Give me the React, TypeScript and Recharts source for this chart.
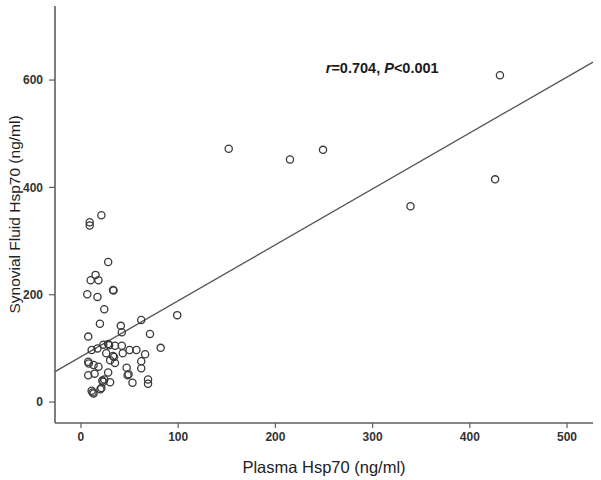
import React from "react"
import { ScatterChart, Scatter, XAxis, YAxis, ReferenceLine, ReferenceDot, Label } from "recharts"

// Plasma Hsp70 (x) vs synovial fluid Hsp70 (y), ng/ml
const plasmaHsp70 = [
  152, 215, 249, 339, 426, 431, 99,
  21, 9, 9, 28, 15, 10, 18, 33, 33.5, 6.5, 17, 24, 19.5, 62, 41, 42, 7.5, 71, 82,
  11, 17, 23, 28, 29, 35, 42, 50, 57, 66, 26, 43, 33, 34, 30, 35, 7.5, 8, 13, 18,
  7.5, 14, 47, 62, 62, 48, 49, 28, 24, 23, 22, 30, 21, 53, 69, 69, 11, 12, 13, 20,
]
const synovialHsp70 = [
  472, 452, 470, 365, 415, 609, 162,
  348, 335, 329, 261, 237, 227, 227, 209, 208, 201, 196, 173, 146, 153, 142, 130, 122, 127, 101,
  97, 100, 107, 108, 106, 105, 105, 97, 97, 89, 91, 91, 86, 84, 78, 73, 75, 72, 69, 66,
  50, 53, 64, 76, 63, 50, 52, 55, 42, 38, 40, 37, 26, 36, 42, 34, 21, 18, 16, 24,
]

const xTicks = [0, 100, 200, 300, 400, 500]
const yTicks = [0, 200, 400, 600]
const xDomain = [-26.7, 526.7]
const yDomain = [-39, 738]

// linear fit shown in the figure
const fitIntercept = 84.6
const fitSlope = 1.042
const statText = { r: "0.704", p: "0.001" }

const points = plasmaHsp70.map((x, i) => ({ x, y: synovialHsp70[i] }))
const fitY = (x: number) => fitIntercept + fitSlope * x

const frame = "#5e5e5e"
const tickStyle = { fontFamily: "'Liberation Sans', Arial, sans-serif", fontSize: 12, fontWeight: 700, fill: "#333" }
const titleFont = "'Liberation Sans', Arial, sans-serif"

const OpenCircle = (props: any) => {
  const { cx, cy } = props
  if (cx == null || cy == null) return null
  return <circle cx={cx} cy={cy} r={3.6} fill="none" stroke="#3a3a3a" strokeWidth={1.3} />
}

const StatLabel = (props: any) => {
  const { viewBox } = props
  if (!viewBox) return null
  return (
    <text x={viewBox.x} y={viewBox.y} dominantBaseline="central" fontFamily={titleFont} fontSize={14.5} fontWeight={700} fill="#1a1a1a">
      <tspan fontStyle="italic">r</tspan>
      <tspan>={statText.r}, </tspan>
      <tspan fontStyle="italic">P</tspan>
      <tspan>{"<" + statText.p}</tspan>
    </text>
  )
}

export default function App() {
  return (
    <div style={{ position: "absolute", left: 0, top: 0, width: 601, height: 480, background: "#fff" }}>
      <ScatterChart width={601} height={480} margin={{ top: 6, right: 8, bottom: 0, left: 0 }}>
        <XAxis
          dataKey="x"
          type="number"
          domain={xDomain}
          ticks={xTicks}
          allowDataOverflow
          height={57}
          tickSize={5}
          tickMargin={4}
          tick={tickStyle}
          axisLine={{ stroke: frame, strokeWidth: 1.6 }}
          tickLine={{ stroke: frame, strokeWidth: 1.2 }}
        >
          <Label value="Plasma Hsp70 (ng/ml)" position="insideBottom" offset={7} style={{ fontFamily: titleFont, fontSize: 16.5, fill: "#222" }} />
        </XAxis>
        <YAxis
          dataKey="y"
          type="number"
          domain={yDomain}
          ticks={yTicks}
          allowDataOverflow
          width={55}
          tickSize={6}
          tickMargin={6}
          tick={tickStyle}
          axisLine={{ stroke: frame, strokeWidth: 1.6 }}
          tickLine={{ stroke: frame, strokeWidth: 1.2 }}
        >
          <Label value="Synovial Fluid Hsp70 (ng/ml)" angle={-90} position="insideLeft" offset={14} style={{ fontFamily: titleFont, fontSize: 15.5, fill: "#222", textAnchor: "middle" }} />
        </YAxis>
        <XAxis xAxisId="top" orientation="top" type="number" domain={xDomain} height={0} tick={false} tickLine={false} axisLine={{ stroke: frame, strokeWidth: 1.6 }} />
        <YAxis yAxisId="right" orientation="right" type="number" domain={yDomain} width={0} tick={false} tickLine={false} axisLine={{ stroke: frame, strokeWidth: 1.6 }} />
        <ReferenceLine
          segment={[{ x: xDomain[0], y: fitY(xDomain[0]) }, { x: xDomain[1], y: fitY(xDomain[1]) }]}
          stroke="#555"
          strokeWidth={1.3}
          ifOverflow="visible"
        />
        <Scatter data={points} shape={<OpenCircle />} isAnimationActive={false} />
        <ReferenceDot x={252.8} y={620.5} r={1} fill="none" stroke="none" label={<StatLabel />} />
      </ScatterChart>
    </div>
  )
}
